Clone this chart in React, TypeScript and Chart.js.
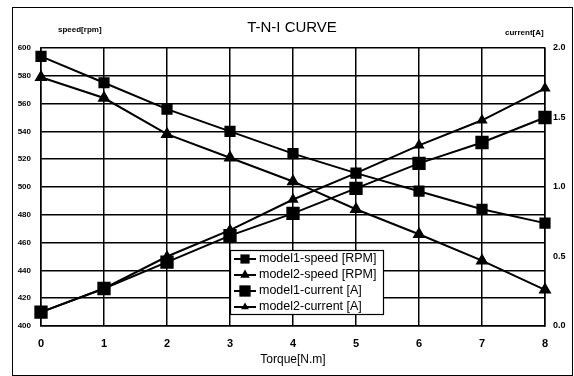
import React, { useEffect, useRef } from "react";
import { Chart, registerables } from "chart.js";

Chart.register(...registerables);

const torque = ["0", "1", "2", "3", "4", "5", "6", "7", "8"];
const model1Speed = [594, 575, 556, 540, 524, 510, 497, 484, 474];
const model2Speed = [579, 564, 538, 521, 504, 484, 466, 447, 426];
const model1Current = [0.1, 0.27, 0.46, 0.65, 0.81, 0.99, 1.17, 1.32, 1.5];
const model2Current = [0.1, 0.27, 0.5, 0.69, 0.91, 1.1, 1.3, 1.48, 1.71];

const FONT = "'Liberation Sans', Arial, sans-serif";

const decorPlugin = {
  id: "decor",
  beforeDraw(chart: any) {
    const ctx = chart.ctx;
    ctx.save();
    ctx.fillStyle = "#fff";
    ctx.fillRect(0, 0, chart.width, chart.height);
    ctx.restore();
  },
  afterDraw(chart: any) {
    const ctx = chart.ctx;
    ctx.save();
    ctx.strokeStyle = "#000";
    ctx.lineWidth = 1;
    ctx.strokeRect(12.5, 7.5, 560, 368);
    ctx.fillStyle = "#000";
    ctx.textBaseline = "middle";
    ctx.font = `15px ${FONT}`;
    ctx.textAlign = "center";
    ctx.fillText("T-N-I CURVE", 292, 28);
    ctx.font = `bold 8px ${FONT}`;
    ctx.textAlign = "left";
    ctx.fillText("speed[rpm]", 58, 30);
    ctx.fillText("current[A]", 505, 33);
    ctx.restore();
  },
  afterDatasetsDraw(chart: any) {
    const ctx = chart.ctx;
    const x0 = 230.5, y0 = 250.5, w = 153, h = 64;
    ctx.save();
    ctx.fillStyle = "#fff";
    ctx.fillRect(x0, y0, w, h);
    ctx.strokeStyle = "#000";
    ctx.lineWidth = 1.2;
    ctx.strokeRect(x0, y0, w, h);
    const rows = [259, 275, 291, 307];
    chart.data.datasets.forEach((ds: any, i: number) => {
      const y = rows[i];
      ctx.strokeStyle = "#000";
      ctx.lineWidth = 2;
      ctx.beginPath();
      ctx.moveTo(234, y);
      ctx.lineTo(256, y);
      ctx.stroke();
      ctx.fillStyle = "#000";
      const cx = 245;
      const r = ds.pointRadius;
      if (ds.pointStyle === "rect") {
        const s = Math.SQRT1_2 * r;
        ctx.fillRect(cx - s, y - s, 2 * s, 2 * s);
      } else {
        ctx.beginPath();
        ctx.moveTo(cx, y - r);
        ctx.lineTo(cx + r * 0.866, y + r * 0.5);
        ctx.lineTo(cx - r * 0.866, y + r * 0.5);
        ctx.closePath();
        ctx.fill();
      }
      ctx.font = `12.5px ${FONT}`;
      ctx.textAlign = "left";
      ctx.textBaseline = "middle";
      ctx.fillText(ds.label, 259, y);
    });
    ctx.restore();
  },
};

export default function App() {
  const ref = useRef<HTMLCanvasElement>(null);
  useEffect(() => {
    document.body.style.margin = "0";
    const chart = new Chart(ref.current!, {
      type: "line",
      data: {
        labels: torque,
        datasets: [
          {
            label: "model1-speed [RPM]",
            data: model1Speed,
            yAxisID: "y",
            borderColor: "#000",
            backgroundColor: "#000",
            borderWidth: 2,
            pointStyle: "rect",
            pointRadius: 6.5,
          },
          {
            label: "model2-speed [RPM]",
            data: model2Speed,
            yAxisID: "y",
            borderColor: "#000",
            backgroundColor: "#000",
            borderWidth: 2,
            pointStyle: "triangle",
            pointRadius: 5.5,
          },
          {
            label: "model1-current [A]",
            data: model1Current,
            yAxisID: "y1",
            borderColor: "#000",
            backgroundColor: "#000",
            borderWidth: 2,
            pointStyle: "rect",
            pointRadius: 8,
          },
          {
            label: "model2-current [A]",
            data: model2Current,
            yAxisID: "y1",
            borderColor: "#000",
            backgroundColor: "#000",
            borderWidth: 2,
            pointStyle: "triangle",
            pointRadius: 4.5,
          },
        ] as any,
      },
      options: {
        responsive: false,
        animation: false,
        layout: { padding: { top: 48, left: 0, right: 0, bottom: 0 } },
        plugins: {
          legend: { display: false },
          title: { display: false },
          tooltip: { enabled: false },
        },
        scales: {
          x: {
            type: "category",
            offset: false,
            grid: { color: "#000", lineWidth: 1.5, drawTicks: false },
            border: { color: "#000", width: 1.5 },
            ticks: {
              color: "#000",
              padding: 11,
              font: { family: FONT, size: 11, weight: "bold" },
              maxRotation: 0,
            },
            title: {
              display: true,
              text: "Torque[N.m]",
              color: "#000",
              font: { family: FONT, size: 12 },
              padding: { top: 4, bottom: 9 },
            },
            afterFit(scale: any) {
              scale.height = 50;
            },
          },
          y: {
            position: "left",
            min: 400,
            max: 600,
            grid: { color: "#000", lineWidth: 1.5, drawTicks: false },
            border: { color: "#000", width: 1.5 },
            ticks: {
              stepSize: 20,
              color: "#000",
              padding: 10,
              font: { family: FONT, size: 8, weight: "bold" },
            },
            afterFit(scale: any) {
              scale.width = 41;
            },
          },
          y1: {
            position: "right",
            min: 0,
            max: 2,
            grid: { display: false, drawTicks: false },
            border: { color: "#000", width: 1.5 },
            ticks: {
              stepSize: 0.5,
              color: "#000",
              padding: 8,
              font: { family: FONT, size: 9, weight: "bold" },
              callback: (v: any) => Number(v).toFixed(1),
            },
            afterFit(scale: any) {
              scale.width = 29;
            },
          },
        },
      } as any,
      plugins: [decorPlugin],
    });
    return () => chart.destroy();
  }, []);
  return (
    <div style={{ position: "absolute", left: 0, top: 0, width: 574, height: 376 }}>
      <canvas ref={ref} width={574} height={376} />
    </div>
  );
}
